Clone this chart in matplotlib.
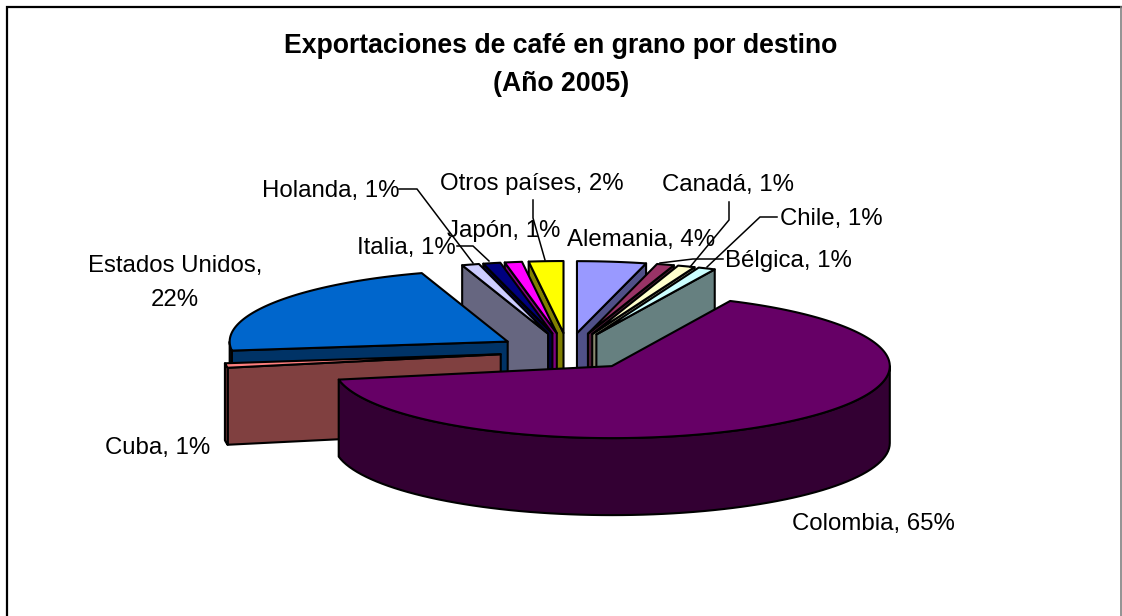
import numpy as np
from matplotlib import pyplot as plt
from matplotlib.patches import Polygon

plt.rcParams['font.family'] = ['Liberation Sans', 'DejaVu Sans']

paises = ['Alemania', 'Canadá', 'Chile', 'Bélgica', 'Colombia', 'Cuba',
          'Estados Unidos', 'Italia', 'Holanda', 'Japón', 'Otros países']
valores = [4, 1, 1, 1, 65, 1, 22, 1, 1, 1, 2]

color_top = ['#9999FF', '#993366', '#FFFFCC', '#CCFFFF', '#660066', '#FF8080',
             '#0066CC', '#CCCCFF', '#000080', '#FF00FF', '#FFFF00']
color_side = ['#505088', '#4F1C38', '#8A8A70', '#668080', '#330033', '#804040',
              '#003366', '#666680', '#000040', '#800080', '#808000']

# pie geometry in pixels of the reference
CX, CY = 568, 351.5
RX, RY = 278, 72
DEPTH = 77
EXPLODE = 0.257
EXPLODE_CUBA = 0.245

# label text anchor (left edge, middle y), pixels
label_pos = {
    'Alemania': (567, 240),
    'Canadá': (662, 185),
    'Chile': (780, 219),
    'Bélgica': (725, 261),
    'Colombia': (792, 524),
    'Cuba': (105, 448),
    'Estados Unidos': (175, 283),
    'Italia': (357, 248),
    'Holanda': (262, 191),
    'Japón': (447, 231),
    'Otros países': (440, 184),
}

leaders = [
    [(533, 200), (533, 218), (545, 260)],
    [(399, 189), (417, 189), (473, 263)],
    [(457, 246), (473, 246), (489, 261)],
    [(729, 202), (729, 220), (690, 267)],
    [(777, 217), (760, 217), (707, 267)],
    [(723, 259), (693, 259), (660, 263)],
]

fig = plt.figure(figsize=(11.22, 6.16), dpi=100)
ax = fig.add_axes([0, 0, 1, 1])
ax.set_xlim(0, 1122)
ax.set_ylim(616, 0)
ax.axis('off')


def rim(apex, a):
    return apex[0] + RX * np.sin(a), apex[1] - RY * np.cos(a)


def face(points, color, z):
    ax.add_patch(Polygon(points, closed=True, facecolor=color, edgecolor='black',
                         linewidth=1.5, joinstyle='round', zorder=z))


edges = np.cumsum([0] + valores) / sum(valores) * 2 * np.pi
mids = (edges[:-1] + edges[1:]) / 2

# paint back to front
order = np.argsort(-np.cos(mids))
for z, i in enumerate(order):
    a0, a1 = edges[i], edges[i + 1]
    ex = EXPLODE_CUBA if paises[i] == 'Cuba' else EXPLODE
    apex = (CX + ex * RX * np.sin(mids[i]), CY - ex * RY * np.cos(mids[i]))
    apex_low = (apex[0], apex[1] + DEPTH)

    # radial walls that face the viewer
    if np.sin(a0) < -1e-6:
        x, y = rim(apex, a0)
        face([apex, (x, y), (x, y + DEPTH), apex_low], color_side[i], z + 10)
    if np.sin(a1) > 1e-6:
        x, y = rim(apex, a1)
        face([apex, (x, y), (x, y + DEPTH), apex_low], color_side[i], z + 10)

    # outer wall, only the front half of the ellipse shows
    lo, hi = max(a0, np.pi / 2), min(a1, 3 * np.pi / 2)
    if hi > lo:
        t = np.linspace(lo, hi, 80)
        xs, ys = rim(apex, t)
        wall = list(zip(xs, ys)) + list(zip(xs[::-1], ys[::-1] + DEPTH))
        face(wall, color_side[i], z + 10)

    # top
    t = np.linspace(a0, a1, max(4, int(valores[i] * 4)))
    xs, ys = rim(apex, t)
    face([apex] + list(zip(xs, ys)), color_top[i], z + 10)

for line in leaders:
    xs, ys = zip(*line)
    ax.plot(xs, ys, color='black', lw=1.1, zorder=50, solid_joinstyle='miter')

for nombre, valor in zip(paises, valores):
    x, y = label_pos[nombre]
    if nombre == 'Estados Unidos':
        ax.text(x, y, f'{nombre},\n{valor}%', ha='center', va='center', fontsize=17.3,
                linespacing=1.65, zorder=60)
    else:
        ax.text(x, y, f'{nombre}, {valor}%', ha='left', va='center', fontsize=17.3, zorder=60)

ax.text(561, 65, 'Exportaciones de café en grano por destino\n(Año 2005)', ha='center',
        va='center', fontsize=19.2, fontweight='bold', linespacing=1.6, zorder=60)

# chart area border, the bottom is cut off by the picture
ax.plot([7, 7, 1121], [616, 6.5, 6.5], color='black', lw=1.6, zorder=70, solid_joinstyle='miter')
ax.plot([1121, 1121], [6.5, 616], color='#808080', lw=1.2, zorder=70)

fig.savefig('out.png', dpi=100)
